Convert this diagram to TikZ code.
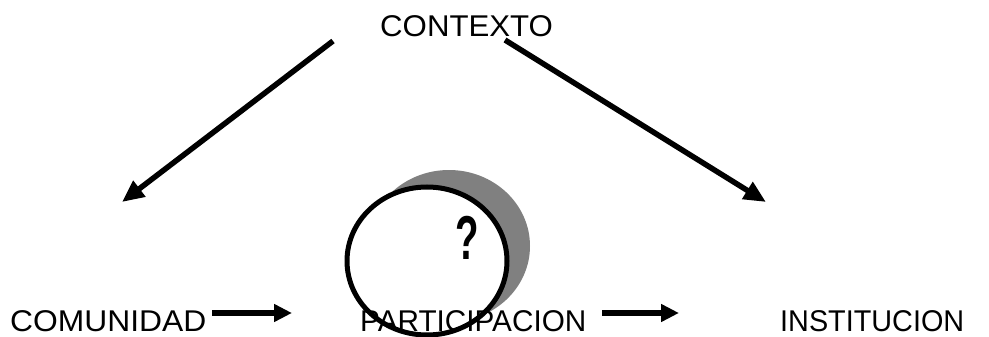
\documentclass[tikz,border=0pt]{standalone}
\usepackage{fontspec}
\setmainfont{Liberation Sans}
\newfontfamily\qfont{Liberation Sans}[FakeStretch=0.62]
\usetikzlibrary{arrows.meta}
\definecolor{shadowgray}{RGB}{128,128,128}
\tikzset{
  lbl/.style={inner sep=0pt, anchor=base west, font=\fontsize{30}{36}\selectfont},
  conn/.style={line width=5.5pt, -{Triangle[length=18pt,width=17pt]}},
  diag/.style={line width=5.5pt, -{Triangle[length=22pt,width=19pt]}}
}
\begin{document}
\begin{tikzpicture}[x=1pt,y=-1pt]
\useasboundingbox (0,0) rectangle (989,337);
% shadow and circle
\fill[shadowgray] (449,246) ellipse [x radius=81pt, y radius=76pt];
\draw[line width=5pt, fill=white] (427,261) ellipse [x radius=80pt, y radius=74pt];
\node[inner sep=0pt, font=\qfont\bfseries\fontsize{62}{70}\selectfont] (q) at (467,238) {?};
% labels
\node[lbl] (ctx) at (380,37) {\scalebox{1.04}[1]{CONTEXTO}};
\node[lbl] (com) at (10,331) {\scalebox{1.06}[1]{COMUNIDAD}};
\node[lbl] (par) at (360,331) {\scalebox{0.99}[1]{PARTICIPACION}};
\node[lbl] (ins) at (780,331) {\scalebox{0.96}[1]{INSTITUCION}};
% connector ends
\coordinate (ctxL) at (333,41);
\coordinate (ctxR) at (505,40);
\coordinate (comT) at (122,202);
\coordinate (insT) at (766,202);
\coordinate (a1s) at (212,313);
\coordinate (a1e) at (292,313);
\coordinate (a2s) at (602,313);
\coordinate (a2e) at (679,313);
\draw[diag] (ctxL) -- (comT);
\draw[diag] (ctxR) -- (insT);
\draw[conn] (a1s) -- (a1e);
\draw[conn] (a2s) -- (a2e);
\end{tikzpicture}
\end{document}
